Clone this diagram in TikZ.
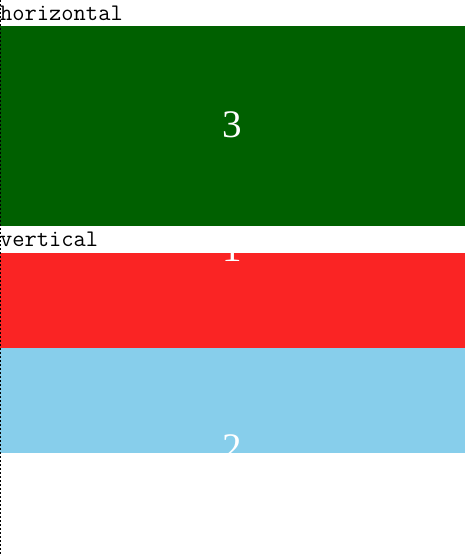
\documentclass[tikz,border=0pt]{standalone}
\usepackage{fontspec}
\usepackage{xcolor}
\usetikzlibrary{positioning}
\newfontfamily\digitfont{Liberation Serif}
\definecolor{boxgreen}{HTML}{006000}
\definecolor{boxred}{HTML}{FA2424}
\definecolor{boxblue}{HTML}{87CEEB}

\begin{document}
\begin{tikzpicture}[x=1pt, y=-1pt,
    panel/.style={rectangle, inner sep=0, outer sep=0, anchor=north west, minimum width=465pt},
    tag/.style={anchor=base west, inner sep=0, font=\ttfamily\fontsize{23.8}{26}\selectfont},
    digit/.style={anchor=base, inner sep=0, text=white, font=\digitfont\fontsize{39}{40}\selectfont}]
    \useasboundingbox (0,0) rectangle (465,556);

    % Horizontal group
    \node[tag] (htag) at (0,21) {horizontal};
    \node[panel, fill=boxgreen, minimum height=200pt] (hbox) at (0,26) {};
    \node[digit] (three) at (232.5,138) {3};

    % Vertical group
    \node[tag] (vtag) at (0,246) {vertical};
    \node[panel, fill=boxred, minimum height=95pt] (rbox) at (0,253) {};
    \node[panel, fill=boxblue, minimum height=105pt] (bbox) at (0,348) {};
    \begin{scope}
        \clip (rbox.north west) rectangle (rbox.south east);
        \node[digit] (one) at (232.5,261) {1};
    \end{scope}
    \begin{scope}
        \clip (bbox.north west) rectangle (bbox.south east);
        \node[digit] (two) at (232.5,460) {2};
    \end{scope}

    % Left border
    \draw[line width=1pt, dash pattern=on 2pt off 2pt] (0.5,0) -- (0.5,556);
\end{tikzpicture}
\end{document}
